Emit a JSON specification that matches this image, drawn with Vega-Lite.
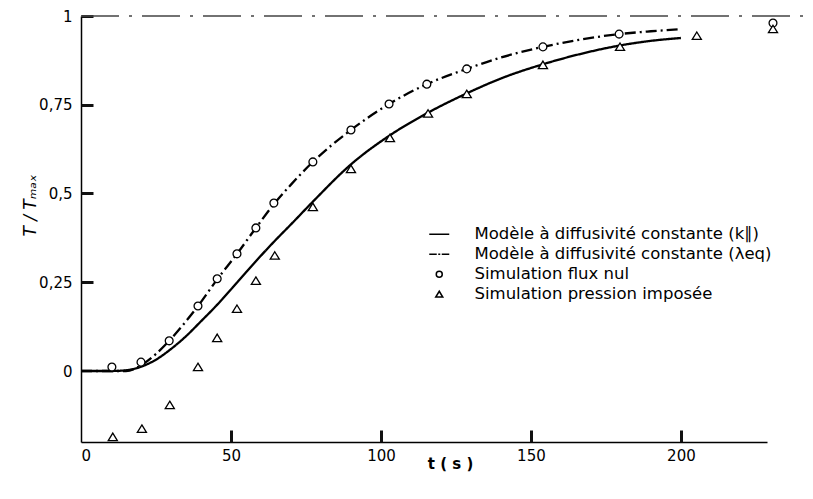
{
  "$schema": "https://vega.github.io/schema/vega-lite/v6.json",
  "width": 686,
  "height": 426,
  "autosize": "none",
  "padding": {"left": 81, "top": 16, "right": 46, "bottom": 57},
  "background": "white",
  "config": {
    "view": {"stroke": null},
    "font": "DejaVu Sans",
    "axis": {
      "grid": false,
      "domainColor": "black",
      "domainWidth": 1.5,
      "labelFontSize": 15,
      "labelColor": "black",
      "labelFont": "DejaVu Sans",
      "titleColor": "black",
      "titleFont": "DejaVu Sans"
    }
  },
  "resolve": {"axis": {"x": "independent", "y": "independent"}},
  "datasets": {
    "asym": [{"t0": 0, "t1": 243, "v": 1}],
    "curves": [
      {"series": "k", "t": 0, "v": 0},
      {"series": "k", "t": 10, "v": 0},
      {"series": "k", "t": 15, "v": 0.002},
      {"series": "k", "t": 20, "v": 0.012},
      {"series": "k", "t": 25, "v": 0.032},
      {"series": "k", "t": 30, "v": 0.062},
      {"series": "k", "t": 35, "v": 0.098},
      {"series": "k", "t": 40, "v": 0.14},
      {"series": "k", "t": 45, "v": 0.183},
      {"series": "k", "t": 50, "v": 0.23},
      {"series": "k", "t": 55, "v": 0.278},
      {"series": "k", "t": 60, "v": 0.325},
      {"series": "k", "t": 65, "v": 0.37},
      {"series": "k", "t": 70, "v": 0.413},
      {"series": "k", "t": 77.3, "v": 0.477},
      {"series": "k", "t": 90, "v": 0.582},
      {"series": "k", "t": 103, "v": 0.664},
      {"series": "k", "t": 116, "v": 0.729},
      {"series": "k", "t": 128.6, "v": 0.782},
      {"series": "k", "t": 140, "v": 0.824},
      {"series": "k", "t": 154, "v": 0.864},
      {"series": "k", "t": 166, "v": 0.892},
      {"series": "k", "t": 179.7, "v": 0.917},
      {"series": "k", "t": 190, "v": 0.93},
      {"series": "k", "t": 200, "v": 0.938},
      {"series": "l", "t": 0, "v": 0},
      {"series": "l", "t": 15, "v": 0},
      {"series": "l", "t": 20, "v": 0.016},
      {"series": "l", "t": 25, "v": 0.048},
      {"series": "l", "t": 29.4, "v": 0.085},
      {"series": "l", "t": 35, "v": 0.14},
      {"series": "l", "t": 39, "v": 0.183},
      {"series": "l", "t": 45.4, "v": 0.258},
      {"series": "l", "t": 52, "v": 0.33},
      {"series": "l", "t": 58.3, "v": 0.403},
      {"series": "l", "t": 64.3, "v": 0.47},
      {"series": "l", "t": 70, "v": 0.525},
      {"series": "l", "t": 77.3, "v": 0.589},
      {"series": "l", "t": 90, "v": 0.679},
      {"series": "l", "t": 102.7, "v": 0.752},
      {"series": "l", "t": 115.3, "v": 0.808},
      {"series": "l", "t": 128.6, "v": 0.851},
      {"series": "l", "t": 140, "v": 0.883},
      {"series": "l", "t": 154, "v": 0.913},
      {"series": "l", "t": 166, "v": 0.933},
      {"series": "l", "t": 179.4, "v": 0.949},
      {"series": "l", "t": 190, "v": 0.957},
      {"series": "l", "t": 200, "v": 0.963}
    ],
    "sims": [
      {"series": "Simulation flux nul", "t": 10.3, "v": 0.011},
      {"series": "Simulation flux nul", "t": 20, "v": 0.025},
      {"series": "Simulation flux nul", "t": 29.4, "v": 0.085},
      {"series": "Simulation flux nul", "t": 39, "v": 0.183},
      {"series": "Simulation flux nul", "t": 45.4, "v": 0.26},
      {"series": "Simulation flux nul", "t": 52, "v": 0.33},
      {"series": "Simulation flux nul", "t": 58.3, "v": 0.403},
      {"series": "Simulation flux nul", "t": 64.3, "v": 0.473},
      {"series": "Simulation flux nul", "t": 77.3, "v": 0.589},
      {"series": "Simulation flux nul", "t": 90, "v": 0.679},
      {"series": "Simulation flux nul", "t": 102.7, "v": 0.752},
      {"series": "Simulation flux nul", "t": 115.3, "v": 0.808},
      {"series": "Simulation flux nul", "t": 128.6, "v": 0.851},
      {"series": "Simulation flux nul", "t": 154, "v": 0.913},
      {"series": "Simulation flux nul", "t": 179.4, "v": 0.949},
      {"series": "Simulation flux nul", "t": 230.7, "v": 0.98},
      {"series": "Simulation pression imposée", "t": 10.6, "v": -0.186},
      {"series": "Simulation pression imposée", "t": 20.3, "v": -0.163},
      {"series": "Simulation pression imposée", "t": 29.6, "v": -0.096},
      {"series": "Simulation pression imposée", "t": 39, "v": 0.011},
      {"series": "Simulation pression imposée", "t": 45.4, "v": 0.093},
      {"series": "Simulation pression imposée", "t": 52, "v": 0.175},
      {"series": "Simulation pression imposée", "t": 58.3, "v": 0.254},
      {"series": "Simulation pression imposée", "t": 64.6, "v": 0.325},
      {"series": "Simulation pression imposée", "t": 77.3, "v": 0.462},
      {"series": "Simulation pression imposée", "t": 90, "v": 0.569},
      {"series": "Simulation pression imposée", "t": 103, "v": 0.656},
      {"series": "Simulation pression imposée", "t": 115.7, "v": 0.725},
      {"series": "Simulation pression imposée", "t": 128.6, "v": 0.78},
      {"series": "Simulation pression imposée", "t": 154, "v": 0.862},
      {"series": "Simulation pression imposée", "t": 179.7, "v": 0.913},
      {"series": "Simulation pression imposée", "t": 205.3, "v": 0.944},
      {"series": "Simulation pression imposée", "t": 230.7, "v": 0.963}
    ]
  },
  "layer": [
    {
      "data": {"name": "asym"},
      "mark": {"type": "rule", "strokeDash": [38, 10, 3, 10], "strokeWidth": 1.6, "color": "#444"},
      "encoding": {
        "x": {
          "field": "t0", "type": "quantitative",
          "scale": {"domain": [0, 228.7], "nice": false, "zero": false},
          "axis": {
            "orient": "bottom",
            "values": [0, 50, 100, 150, 200],
            "ticks": false,
            "labelPadding": 6,
            "title": "t ( s )",
            "titleFontSize": 15,
            "titleFontWeight": "bold",
            "titleX": 369,
            "titleY": 21,
            "titleBaseline": "middle",
            "titleAnchor": null
          }
        },
        "x2": {"field": "t1"},
        "y": {
          "field": "v", "type": "quantitative",
          "scale": {"domain": [-0.2, 1], "nice": false, "zero": false},
          "axis": {
            "orient": "left",
            "values": [0, 0.25, 0.5, 0.75, 1],
            "ticks": false,
            "labelExpr": "replace(format(datum.value, ''), '.', ',')",
            "labelPadding": 9,
            "title": "T / Tₘₐₓ",
            "titleFontSize": 17,
            "titleFontStyle": "italic",
            "titleFontWeight": "normal",
            "titleX": -51,
            "titleY": 189,
            "titleAngle": -90,
            "titleAlign": "center",
            "titleBaseline": "middle"
          }
        }
      }
    },
    {
      "data": {"name": "curves"},
      "mark": {"type": "line", "interpolate": "monotone", "strokeWidth": 2.3, "color": "black"},
      "encoding": {
        "x": {"field": "t", "type": "quantitative", "axis": null},
        "y": {"field": "v", "type": "quantitative", "axis": null},
        "strokeDash": {
          "field": "series", "type": "nominal",
          "scale": {"domain": ["k", "l"], "range": [[1, 0], [11, 4, 2, 4]]},
          "legend": null
        }
      }
    },
    {
      "data": {"name": "asym"},
      "mark": {"type": "rule", "opacity": 0},
      "encoding": {
        "x": {
          "field": "t0", "type": "quantitative",
          "axis": {"orient": "top", "offset": -426, "values": [50, 100, 150, 200], "domain": false, "labels": false, "ticks": true, "tickSize": 12, "tickWidth": 3, "tickColor": "#111111", "title": null}
        },
        "y": {
          "field": "v", "type": "quantitative",
          "axis": {"orient": "right", "offset": -686, "values": [0.25, 0.5, 0.75, 1], "domain": false, "labels": false, "ticks": true, "tickSize": 12, "tickWidth": 3, "tickColor": "#111111", "title": null}
        }
      }
    },
    {
      "data": {"name": "sims"},
      "mark": {"type": "point", "filled": true, "fill": "white", "stroke": "black", "strokeWidth": 1.3, "size": 170, "opacity": 1},
      "encoding": {
        "x": {"field": "t", "type": "quantitative", "axis": null},
        "y": {"field": "v", "type": "quantitative", "axis": null},
        "shape": {
          "field": "series", "type": "nominal",
          "scale": {
            "domain": ["Modèle à diffusivité constante (k∥)", "Modèle à diffusivité constante (λeq)", "Simulation flux nul", "Simulation pression imposée"],
            "range": [
              "M-2,0H2",
              "M-2,0H-0.5M-0.2,0H0.2M0.5,0H2",
              "M-0.6,0A0.6,0.6 0 1,1 0.6,0A0.6,0.6 0 1,1 -0.6,0Z",
              "M0,-0.6L0.7,0.55L-0.7,0.55Z"
            ]
          },
          "legend": {
            "title": null,
            "orient": "none",
            "legendX": 350,
            "legendY": 210,
            "padding": 0,
            "symbolSize": 100,
            "labelFontSize": 16.5,
            "labelFont": "DejaVu Sans",
            "labelColor": "black",
            "labelOffset": 27,
            "labelLimit": 500,
            "rowPadding": 3,
            "encode": {
              "symbols": {
                "update": {
                  "stroke": {"value": "black"},
                  "fill": {"value": "white"},
                  "opacity": {"value": 1},
                  "strokeWidth": {"signal": "indexof(datum.value, 'Mod') == 0 ? 2.2 : 1.2"}
                }
              }
            }
          }
        }
      }
    }
  ]
}
